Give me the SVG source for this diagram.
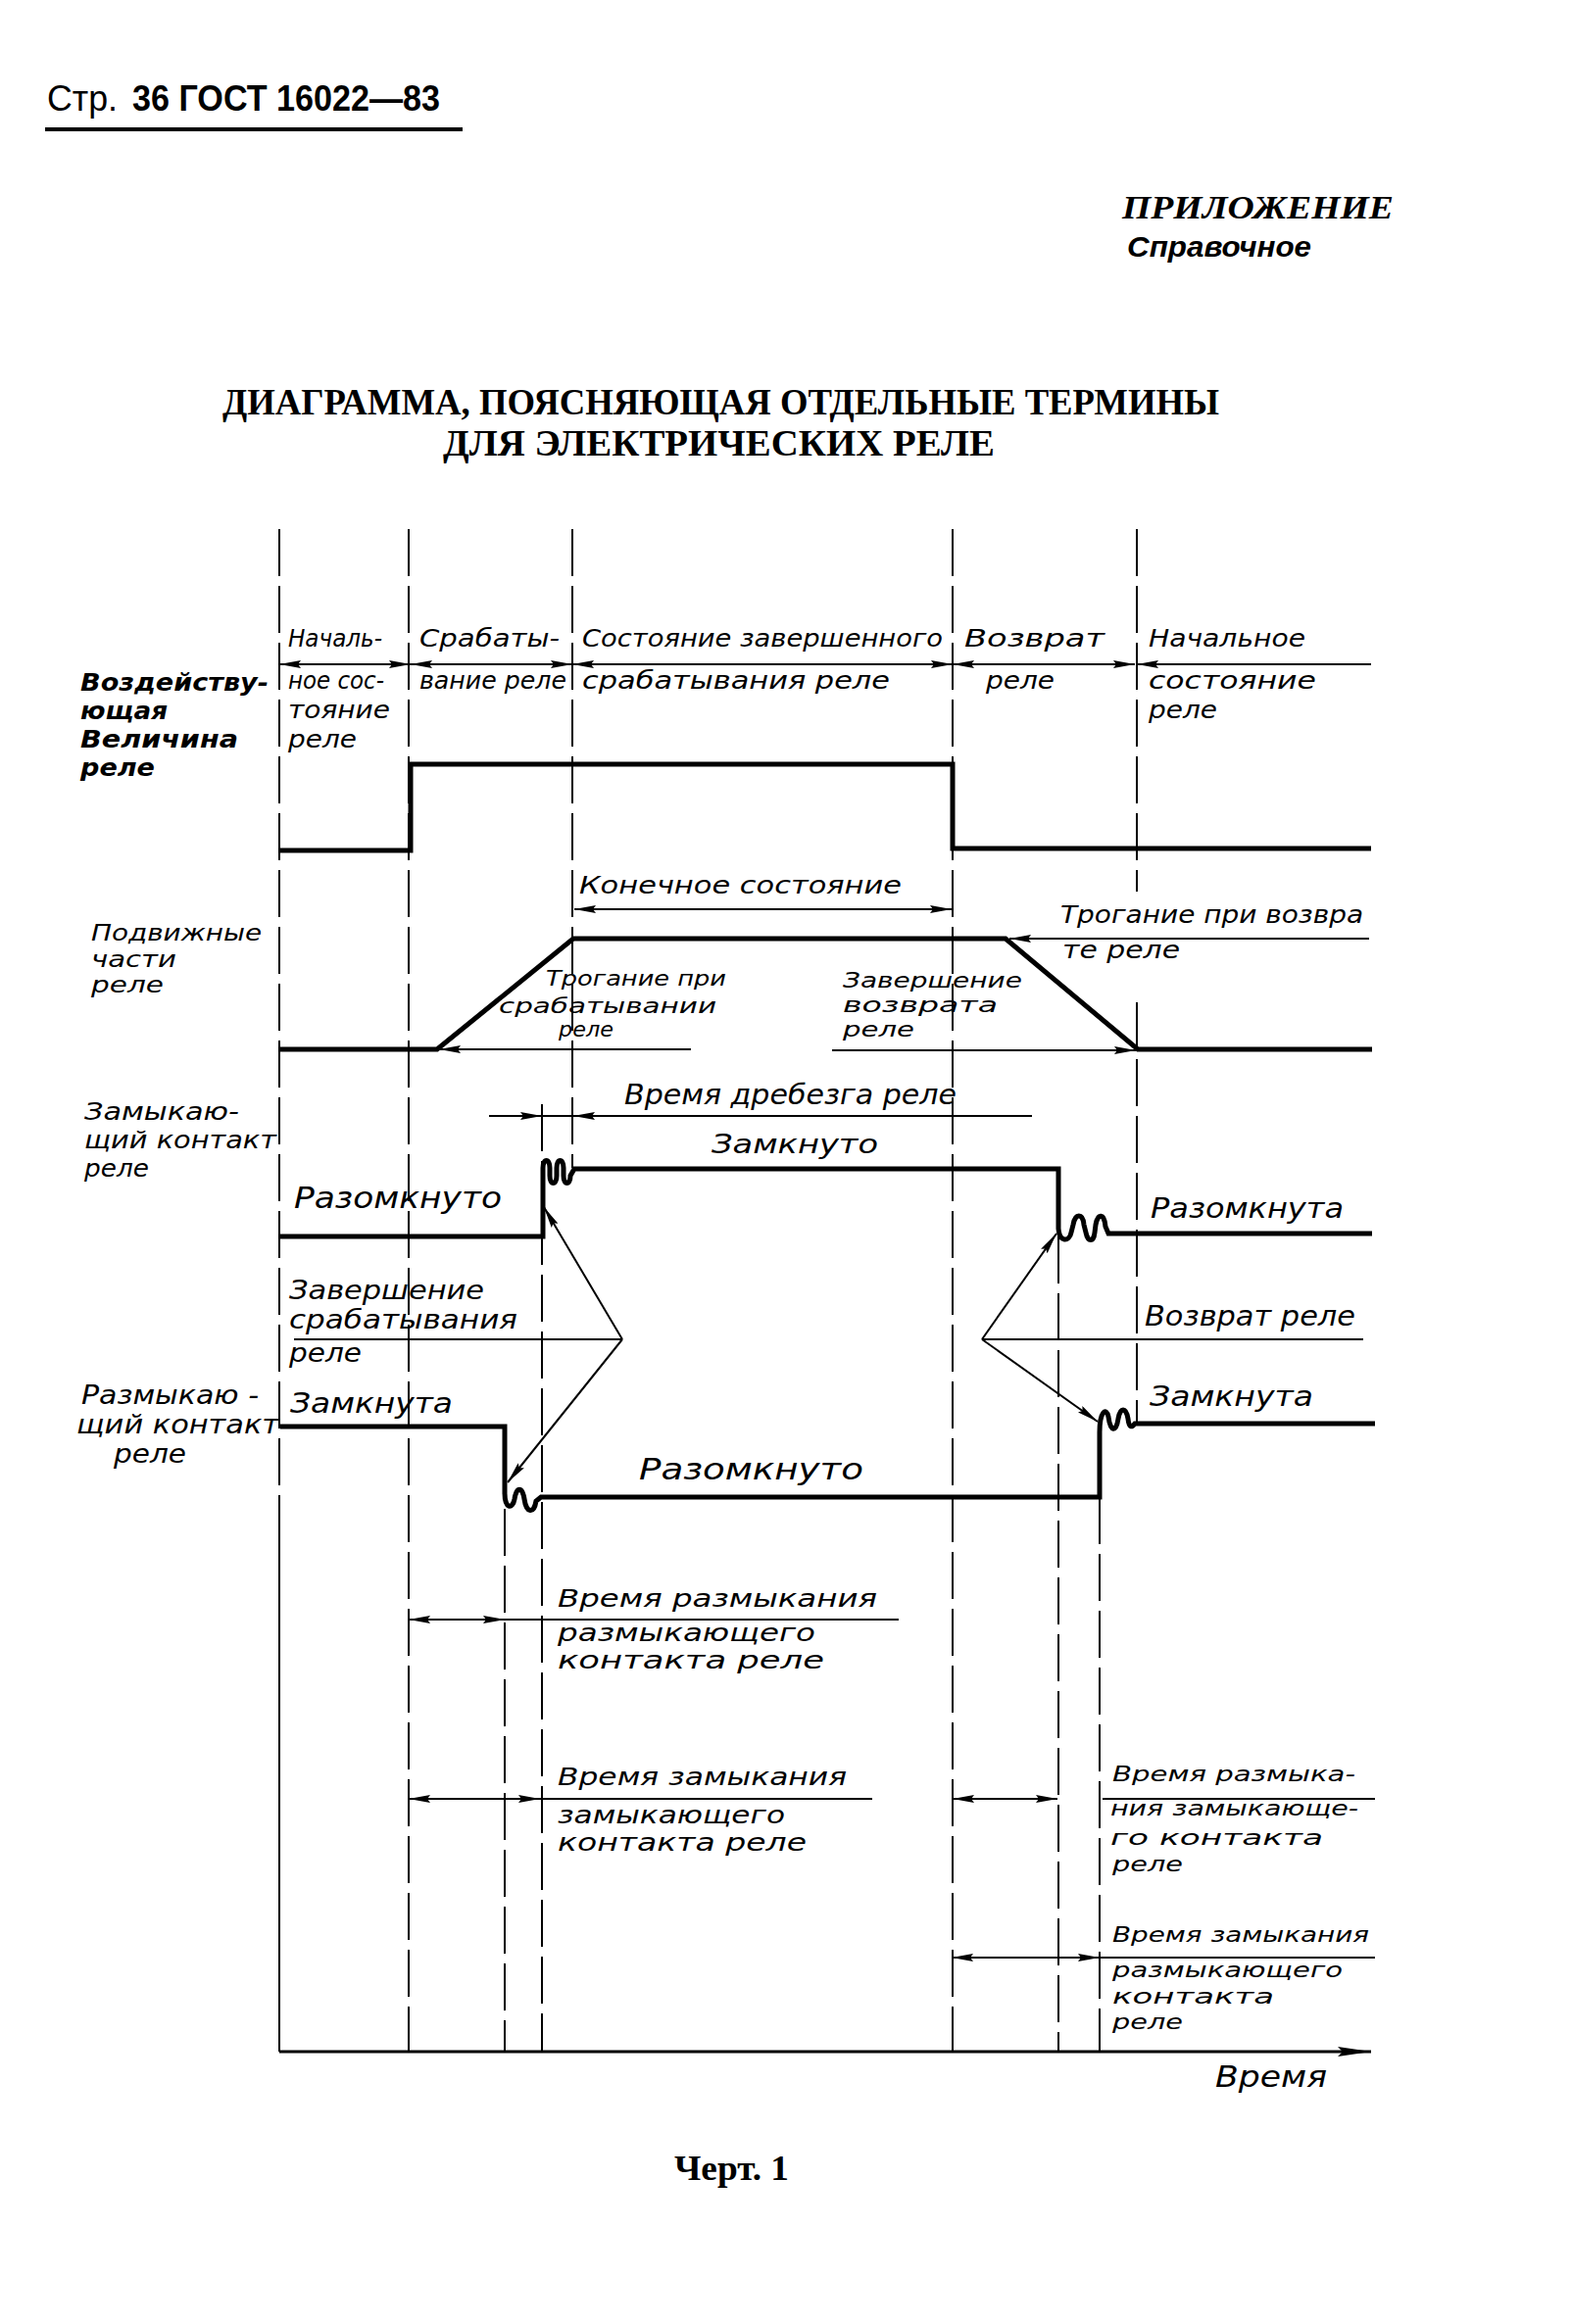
<svg xmlns="http://www.w3.org/2000/svg" width="1603" height="2372" viewBox="0 0 1603 2372">
<style>
.bg{fill:#fff}
.t{font-family:"DejaVu Sans","Liberation Sans",sans-serif;font-style:italic;fill:#000}
.b{font-weight:bold}
.g{stroke:#000;stroke-width:2;stroke-dasharray:48 10;fill:none}
.s{stroke:#000;stroke-width:2;fill:none}
.w{stroke:#000;stroke-width:5;fill:none;stroke-linejoin:miter}
.d{stroke:#000;stroke-width:2;fill:none;marker-start:url(#ar);marker-end:url(#ar)}
.e{stroke:#000;stroke-width:2;fill:none;marker-end:url(#ar)}
</style>
<defs>
<marker id="ar" viewBox="0 0 22 8" refX="22" refY="4" markerWidth="22" markerHeight="8" markerUnits="userSpaceOnUse" orient="auto-start-reverse"><path d="M0,0 L22,4 L0,8 L3,4 z" fill="#000"/></marker>
<marker id="ax" viewBox="0 0 34 10" refX="34" refY="5" markerWidth="34" markerHeight="10" markerUnits="userSpaceOnUse" orient="auto"><path d="M0,0 L34,5 L0,10 L5,5 z" fill="#000"/></marker>
</defs>
<rect class="bg" x="0" y="0" width="1603" height="2372"/>

<g id="header">
<text x="48" y="113" font-family="Liberation Sans, sans-serif" font-size="37" textLength="72" lengthAdjust="spacingAndGlyphs">Стр.</text>
<text x="135" y="113" font-family="Liberation Sans, sans-serif" font-size="37" font-weight="bold" textLength="314" lengthAdjust="spacingAndGlyphs">36 ГОСТ 16022—83</text>
<line x1="46" y1="132" x2="472" y2="132" stroke="#000" stroke-width="4"/>
</g>
<g id="appendix">
<text x="1145" y="223" font-family="Liberation Serif, serif" font-style="italic" font-weight="bold" font-size="33" textLength="277" lengthAdjust="spacingAndGlyphs">ПРИЛОЖЕНИЕ</text>
<text x="1150" y="262" font-family="Liberation Sans, sans-serif" font-style="italic" font-weight="bold" font-size="30" textLength="188" lengthAdjust="spacingAndGlyphs">Справочное</text>
</g>
<g id="title">
<text x="227" y="423" font-family="Liberation Serif, serif" font-weight="bold" font-size="37" textLength="1017" lengthAdjust="spacingAndGlyphs">ДИАГРАММА, ПОЯСНЯЮЩАЯ ОТДЕЛЬНЫЕ ТЕРМИНЫ</text>
<text x="452" y="465" font-family="Liberation Serif, serif" font-weight="bold" font-size="37" textLength="563" lengthAdjust="spacingAndGlyphs">ДЛЯ ЭЛЕКТРИЧЕСКИХ РЕЛЕ</text>
</g>

<g id="guides">
<line class="g" x1="285" y1="540" x2="285" y2="1560"/>
<line class="s" x1="285" y1="1560" x2="285" y2="2094"/>
<line class="g" x1="417" y1="540" x2="417" y2="2094"/>
<line class="g" x1="584" y1="540" x2="584" y2="1192"/>
<line class="g" x1="972" y1="540" x2="972" y2="2094"/>
<line class="g" x1="1160" y1="540" x2="1160" y2="910"/>
<line class="g" x1="1160" y1="1023" x2="1160" y2="1452"/>
<line class="g" x1="553" y1="1127" x2="553" y2="2094"/>
<line class="g" x1="515" y1="1540" x2="515" y2="2094"/>
<line class="g" x1="1080" y1="1262" x2="1080" y2="2094"/>
<line class="g" x1="1122" y1="1528" x2="1122" y2="2094"/>
</g>

<g id="axis">
<line x1="285" y1="2094" x2="1399" y2="2094" stroke="#000" stroke-width="3" marker-end="url(#ax)"/>
<text class="t" x="1240" y="2130" font-size="31" textLength="114" lengthAdjust="spacingAndGlyphs">Время</text>
</g>

<g id="input-signal">
<path class="w" d="M285 868 H419 V780 H972 V866 H1399"/>
</g>
<g id="moving-parts">
<path class="w" d="M286 1071 H446 L585 958 H1026 L1161 1071 H1400"/>
</g>
<g id="make-contact">
<path class="w" d="M286 1262 H554 V1192 C554 1182 561 1182 561 1192 L561 1200 C561 1210 568 1210 568 1200 L568 1192 C568 1182 575 1182 575 1192 L575 1200 C575 1210 582 1210 582 1200 L586 1193 H1080 V1254 C1081 1268 1091 1268 1093 1258 L1095 1250 C1097 1238 1105 1238 1106 1250 L1108 1258 C1110 1268 1116 1268 1117 1258 L1118 1250 C1120 1238 1127 1238 1128 1252 L1131 1259 H1400"/>
</g>
<g id="break-contact">
<path class="w" d="M286 1456 H515 V1524 C515 1540 523 1541 525 1530 C527 1517 533 1517 535 1530 C537 1545 545 1545 547 1532 L552 1528 H1122 V1462 C1122 1440 1129 1436 1131 1446 C1133 1462 1139 1462 1141 1448 C1143 1436 1149 1436 1151 1448 C1152 1458 1155 1457 1158 1453 H1403"/>
</g>

<g id="connectors">
<line class="d" x1="285" y1="678" x2="419" y2="678"/>
<line class="d" x1="419" y1="678" x2="584" y2="678"/>
<line class="d" x1="584" y1="678" x2="972" y2="678"/>
<line class="d" x1="972" y1="678" x2="1158" y2="678"/>
<line class="e" x1="1399" y1="678" x2="1160" y2="678"/>
<line class="d" x1="586" y1="928" x2="971" y2="928"/>
<line class="e" x1="705" y1="1071" x2="448" y2="1071"/>
<line class="e" x1="849" y1="1072" x2="1159" y2="1072"/>
<line class="e" x1="1397" y1="958" x2="1030" y2="958"/>
<line class="s" x1="499" y1="1139" x2="1053" y2="1139"/>
<line class="e" x1="520" y1="1139" x2="553" y2="1139"/>
<line class="e" x1="620" y1="1139" x2="585" y2="1139"/>
<line class="s" x1="300" y1="1367" x2="635" y2="1367"/>
<line class="e" x1="635" y1="1367" x2="555" y2="1232"/>
<line class="e" x1="635" y1="1367" x2="518" y2="1513"/>
<line class="s" x1="1002" y1="1367" x2="1391" y2="1367"/>
<line class="e" x1="1002" y1="1367" x2="1078" y2="1259"/>
<line class="e" x1="1002" y1="1367" x2="1120" y2="1451"/>
<line class="d" x1="417" y1="1653" x2="515" y2="1653"/>
<line class="s" x1="515" y1="1653" x2="917" y2="1653"/>
<line class="d" x1="417" y1="1836" x2="551" y2="1836"/>
<line class="s" x1="551" y1="1836" x2="890" y2="1836"/>
<line class="d" x1="972" y1="1836" x2="1079" y2="1836"/>
<line class="s" x1="1125" y1="1836" x2="1403" y2="1836"/>
<line class="d" x1="971" y1="1998" x2="1122" y2="1998"/>
<line class="s" x1="1122" y1="1998" x2="1403" y2="1998"/>
</g>

<g id="label-input" class="t b" font-size="25">
<text x="82" y="705" textLength="192" lengthAdjust="spacingAndGlyphs">Воздейству-</text>
<text x="82" y="734" textLength="89" lengthAdjust="spacingAndGlyphs">ющая</text>
<text x="82" y="763" textLength="161" lengthAdjust="spacingAndGlyphs">Величина</text>
<text x="82" y="792" textLength="76" lengthAdjust="spacingAndGlyphs">реле</text>
</g>
<g id="label-phase-initial" class="t" font-size="25">
<text x="294" y="660" textLength="96" lengthAdjust="spacingAndGlyphs">Началь-</text>
<text x="294" y="703" textLength="98" lengthAdjust="spacingAndGlyphs">ное сос-</text>
<text x="294" y="733" textLength="104" lengthAdjust="spacingAndGlyphs">тояние</text>
<text x="294" y="763" textLength="70" lengthAdjust="spacingAndGlyphs">реле</text>
</g>
<g id="label-phase-operate" class="t" font-size="25">
<text x="428" y="660" textLength="143" lengthAdjust="spacingAndGlyphs">Срабаты-</text>
<text x="428" y="703" textLength="150" lengthAdjust="spacingAndGlyphs">вание реле</text>
</g>
<g id="label-phase-operated" class="t" font-size="25">
<text x="594" y="660" textLength="368" lengthAdjust="spacingAndGlyphs">Состояние завершенного</text>
<text x="594" y="703" textLength="314" lengthAdjust="spacingAndGlyphs">срабатывания реле</text>
</g>
<g id="label-phase-return" class="t" font-size="25">
<text x="984" y="660" textLength="143" lengthAdjust="spacingAndGlyphs">Возврат</text>
<text x="1006" y="703" textLength="70" lengthAdjust="spacingAndGlyphs">реле</text>
</g>
<g id="label-phase-final" class="t" font-size="25">
<text x="1172" y="660" textLength="160" lengthAdjust="spacingAndGlyphs">Начальное</text>
<text x="1172" y="703" textLength="171" lengthAdjust="spacingAndGlyphs">состояние</text>
<text x="1172" y="733" textLength="70" lengthAdjust="spacingAndGlyphs">реле</text>
</g>

<g id="label-moving" class="t" font-size="23">
<text x="93" y="960" textLength="174" lengthAdjust="spacingAndGlyphs">Подвижные</text>
<text x="93" y="987" textLength="87" lengthAdjust="spacingAndGlyphs">части</text>
<text x="93" y="1013" textLength="74" lengthAdjust="spacingAndGlyphs">реле</text>
</g>
<g id="label-final-state" class="t" font-size="24">
<text x="591" y="912" textLength="329" lengthAdjust="spacingAndGlyphs">Конечное  состояние</text>
</g>
<g id="label-pickup-start" class="t" font-size="21">
<text x="557" y="1006" textLength="184" lengthAdjust="spacingAndGlyphs">Трогание при</text>
<text x="509" y="1034" textLength="222" lengthAdjust="spacingAndGlyphs">срабатывании</text>
<text x="570" y="1058" textLength="56" lengthAdjust="spacingAndGlyphs">реле</text>
</g>
<g id="label-return-end" class="t" font-size="22">
<text x="860" y="1008" textLength="183" lengthAdjust="spacingAndGlyphs">Завершение</text>
<text x="860" y="1033" textLength="158" lengthAdjust="spacingAndGlyphs">возврата</text>
<text x="860" y="1058" textLength="73" lengthAdjust="spacingAndGlyphs">реле</text>
</g>
<g id="label-return-start" class="t" font-size="24">
<text x="1082" y="942" textLength="309" lengthAdjust="spacingAndGlyphs">Трогание при возвра</text>
<text x="1084" y="978" textLength="120" lengthAdjust="spacingAndGlyphs">те реле</text>
</g>

<g id="label-make-contact" class="t" font-size="25">
<text x="86" y="1143" textLength="158" lengthAdjust="spacingAndGlyphs">Замыкаю-</text>
<text x="86" y="1172" textLength="196" lengthAdjust="spacingAndGlyphs">щий контакт</text>
<text x="86" y="1201" textLength="66" lengthAdjust="spacingAndGlyphs">реле</text>
</g>
<g id="label-bounce" class="t" font-size="28">
<text x="637" y="1127" textLength="339" lengthAdjust="spacingAndGlyphs">Время дребезга реле</text>
</g>
<g id="label-make-closed" class="t" font-size="27">
<text x="726" y="1177" textLength="170" lengthAdjust="spacingAndGlyphs">Замкнуто</text>
</g>
<g id="label-make-open-left" class="t" font-size="30">
<text x="300" y="1233" textLength="212" lengthAdjust="spacingAndGlyphs">Разомкнуто</text>
</g>
<g id="label-make-open-right" class="t" font-size="28">
<text x="1174" y="1243" textLength="197" lengthAdjust="spacingAndGlyphs">Разомкнута</text>
</g>
<g id="label-pickup-end" class="t" font-size="26">
<text x="295" y="1326" textLength="199" lengthAdjust="spacingAndGlyphs">Завершение</text>
<text x="295" y="1356" textLength="233" lengthAdjust="spacingAndGlyphs">срабатывания</text>
<text x="295" y="1390" textLength="74" lengthAdjust="spacingAndGlyphs">реле</text>
</g>
<g id="label-return" class="t" font-size="28">
<text x="1168" y="1353" textLength="215" lengthAdjust="spacingAndGlyphs">Возврат реле</text>
</g>
<g id="label-break-contact" class="t" font-size="26">
<text x="83" y="1433" textLength="181" lengthAdjust="spacingAndGlyphs">Размыкаю -</text>
<text x="78" y="1463" textLength="207" lengthAdjust="spacingAndGlyphs">щий контакт</text>
<text x="116" y="1493" textLength="74" lengthAdjust="spacingAndGlyphs">реле</text>
</g>
<g id="label-break-closed-left" class="t" font-size="29">
<text x="296" y="1442" textLength="166" lengthAdjust="spacingAndGlyphs">Замкнута</text>
</g>
<g id="label-break-closed-right" class="t" font-size="28">
<text x="1173" y="1435" textLength="167" lengthAdjust="spacingAndGlyphs">Замкнута</text>
</g>
<g id="label-break-open" class="t" font-size="30">
<text x="652" y="1510" textLength="229" lengthAdjust="spacingAndGlyphs">Разомкнуто</text>
</g>

<g id="label-break-open-time" class="t" font-size="24">
<text x="569" y="1640" textLength="326" lengthAdjust="spacingAndGlyphs">Время размыкания</text>
<text x="569" y="1675" textLength="263" lengthAdjust="spacingAndGlyphs">размыкающего</text>
<text x="569" y="1703" textLength="272" lengthAdjust="spacingAndGlyphs">контакта реле</text>
</g>
<g id="label-make-close-time" class="t" font-size="24">
<text x="569" y="1822" textLength="295" lengthAdjust="spacingAndGlyphs">Время замыкания</text>
<text x="569" y="1861" textLength="232" lengthAdjust="spacingAndGlyphs">замыкающего</text>
<text x="569" y="1889" textLength="254" lengthAdjust="spacingAndGlyphs">контакта реле</text>
</g>
<g id="label-make-open-time" class="t" font-size="22">
<text x="1135" y="1818" textLength="248" lengthAdjust="spacingAndGlyphs">Время размыка-</text>
<text x="1133" y="1853" textLength="253" lengthAdjust="spacingAndGlyphs">ния замыкающе-</text>
<text x="1133" y="1883" textLength="217" lengthAdjust="spacingAndGlyphs">го контакта</text>
<text x="1135" y="1910" textLength="72" lengthAdjust="spacingAndGlyphs">реле</text>
</g>
<g id="label-break-close-time" class="t" font-size="22">
<text x="1135" y="1982" textLength="262" lengthAdjust="spacingAndGlyphs">Время замыкания</text>
<text x="1135" y="2018" textLength="235" lengthAdjust="spacingAndGlyphs">размыкающего</text>
<text x="1135" y="2045" textLength="165" lengthAdjust="spacingAndGlyphs">контакта</text>
<text x="1135" y="2071" textLength="72" lengthAdjust="spacingAndGlyphs">реле</text>
</g>

<g id="caption">
<text x="688" y="2225" font-family="Liberation Serif, serif" font-weight="bold" font-size="36" textLength="117" lengthAdjust="spacingAndGlyphs">Черт. 1</text>
</g>
</svg>
